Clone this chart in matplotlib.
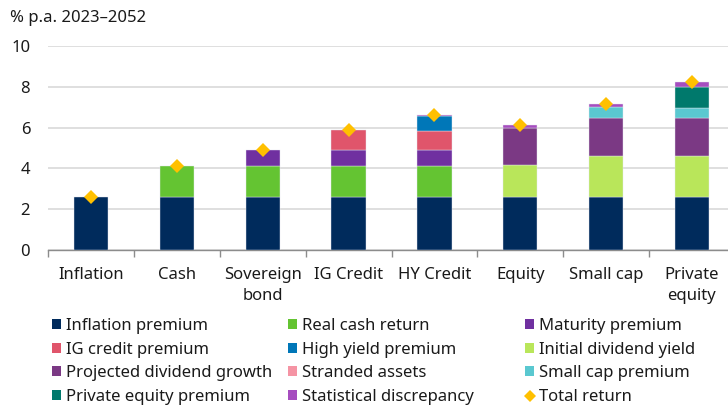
import numpy as np
import matplotlib
matplotlib.use("Agg")
import matplotlib.pyplot as plt
from matplotlib.patches import Patch
from matplotlib.lines import Line2D

plt.rcParams['font.family'] = ['Noto Sans', 'DejaVu Sans']

# data (% p.a.)
categories = ['Inflation', 'Cash', 'Sovereign\nbond', 'IG Credit', 'HY Credit',
              'Equity', 'Small cap', 'Private\nequity']
inflation_premium = [2.58, 2.58, 2.58, 2.58, 2.58, 2.58, 2.58, 2.58]
real_cash_return = [0, 1.53, 1.53, 1.53, 1.53, 0, 0, 0]
maturity_premium = [0, 0, 0.77, 0.77, 0.77, 0, 0, 0]
ig_credit_premium = [0, 0, 0, 0.99, 0.96, 0, 0, 0]
high_yield_premium = [0, 0, 0, 0, 0.73, 0, 0, 0]
initial_dividend_yield = [0, 0, 0, 0, 0, 1.60, 2.05, 2.05]
projected_dividend_growth = [0, 0, 0, 0, 0, 1.81, 1.83, 1.83]
stranded_assets = [0, 0, 0, 0, 0, 0, 0, 0]
small_cap_premium = [0, 0, 0, 0, 0, 0, 0.56, 0.49]
private_equity_premium = [0, 0, 0, 0, 0, 0, 0, 1.03]
statistical_discrepancy = [0, 0, 0, 0, 0.03, 0.13, 0.14, 0.24]
total_return = [2.60, 4.11, 4.88, 5.87, 6.60, 6.12, 7.17, 8.22]

components = [
    ("Inflation premium", inflation_premium, "#002b5c"),
    ("Real cash return", real_cash_return, "#64c432"),
    ("Maturity premium", maturity_premium, "#7030a0"),
    ("IG credit premium", ig_credit_premium, "#e0556b"),
    ("High yield premium", high_yield_premium, "#0077b8"),
    ("Initial dividend yield", initial_dividend_yield, "#b9e65a"),
    ("Projected dividend growth", projected_dividend_growth, "#7b3984"),
    ("Stranded assets", stranded_assets, "#f594a4"),
    ("Small cap premium", small_cap_premium, "#5ac8d0"),
    ("Private equity premium", private_equity_premium, "#00796c"),
    ("Statistical discrepancy", statistical_discrepancy, "#a64dbf"),
]
diamond_color = "#ffc000"
FS = 12

W, H = 728, 408
fig = plt.figure(figsize=(W / 100, H / 100), dpi=100)
ax = fig.add_axes([48.3 / W, 1 - 250 / H, 686.4 / W, 204 / H])

x = np.arange(len(categories))
bottom = np.zeros(len(categories))
for name, vals, col in components:
    vals = np.array(vals, dtype=float)
    nz = vals > 0
    if nz.any():
        ax.bar(x[nz], vals[nz], width=0.4, bottom=bottom[nz], color=col,
               edgecolor='#e4e6ee', linewidth=0.3, zorder=3)
    bottom += vals

ax.plot(x, total_return, linestyle='none', marker='D', markersize=7.6,
        color=diamond_color, markeredgewidth=0, zorder=5)

ax.set_xlim(-0.5, 7.5)
ax.set_ylim(0, 10)
ax.set_yticks([0, 2, 4, 6, 8, 10])
ax.yaxis.grid(True, color='#d9d9d9', linewidth=1.2, zorder=0)
ax.set_axisbelow(True)
for s in ['top', 'right', 'left']:
    ax.spines[s].set_visible(False)
ax.spines['bottom'].set_color('#8c8c8c')
ax.spines['bottom'].set_linewidth(1.0)
ax.tick_params(axis='y', length=0, pad=13, labelsize=FS, colors='#1a1a1a')
ax.set_xticks(x)
ax.set_xticklabels(categories, fontsize=FS, color='#1a1a1a', linespacing=1.45)
ax.set_xticks(np.arange(-0.5, 8.0, 1.0), minor=True)
ax.tick_params(axis='x', which='major', length=0, pad=12)
ax.tick_params(axis='x', which='minor', length=5, width=1, color='#8c8c8c')

fig.text(10 / W, 1 - 18 / H, "% p.a. 2023\u20132052", fontsize=FS,
         va='center', ha='left', color='#1a1a1a')

# legend: three fixed columns, row-major order as in reference
handles = [Patch(facecolor=c, edgecolor='none', label=n) for n, _, c in components]
handles.append(Line2D([], [], linestyle='none', marker='D', markersize=6.5,
                      color=diamond_color, markeredgewidth=0, label="Total return"))
col_x = [52, 288, 525]
for ci in range(3):
    hs = handles[ci::3]
    fig.legend(handles=hs, loc='upper left', bbox_to_anchor=(col_x[ci] / W, 1 - 318 / H),
               frameon=False, fontsize=FS, borderpad=0, borderaxespad=0,
               handlelength=0.54, handleheight=0.54, handletextpad=0.32,
               labelspacing=0.46, labelcolor='#1a1a1a')

fig.savefig("out.png", dpi=100)
